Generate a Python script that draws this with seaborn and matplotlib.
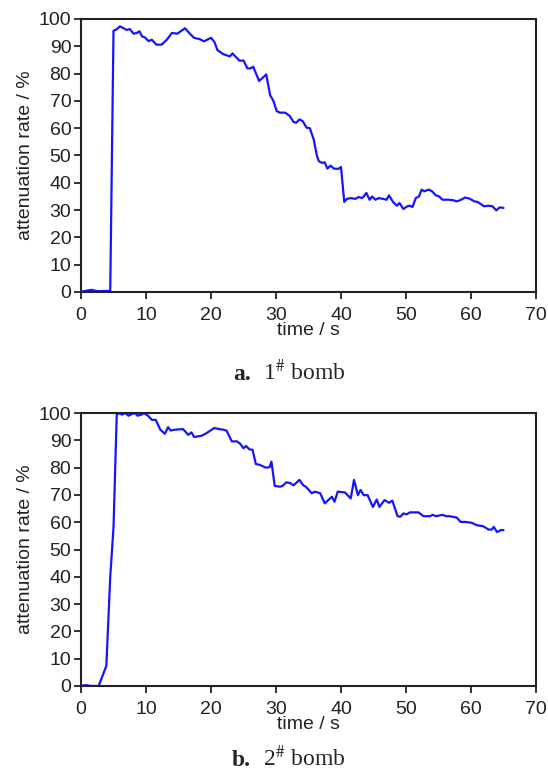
import matplotlib
matplotlib.use("Agg")
import matplotlib.pyplot as plt
import seaborn as sns
import pandas as pd

# ---- data: panel a (1# bomb) ----
time_a = [0, 0.9, 1.6, 2.5, 4.5, 5.0, 5.4, 6.0, 6.5, 7.0, 7.5, 8.1, 8.6, 9.0, 9.4, 9.8,
          10.4, 10.9, 11.6, 12.4, 13.2, 14.0, 14.8, 16.0, 16.8, 17.4, 18.3, 18.9, 20.0,
          20.5, 21.0, 21.9, 22.9, 23.3, 23.9, 24.4, 25.0, 25.6, 26.1, 26.5, 27.4, 28.1,
          28.5, 29.1, 29.6, 30.1, 30.6, 31.4, 32.1, 32.7, 33.1, 33.6, 34.1, 34.7, 35.2,
          35.8, 36.3, 36.6, 37.1, 37.5, 37.9, 38.4, 38.9, 39.6, 40.0, 40.5, 40.9, 41.5,
          42.2, 42.7, 43.2, 43.5, 43.9, 44.4, 44.8, 45.3, 45.8, 46.5, 47.0, 47.4, 48.0,
          48.6, 49.0, 49.6, 50.2, 50.6, 51.0, 51.5, 52.0, 52.4, 52.8, 53.5, 54.0, 54.6,
          55.1, 55.6, 56.5, 57.3, 57.8, 58.3, 59.1, 59.8, 60.5, 61.0, 62.0, 62.7, 63.3,
          63.9, 64.4, 65.0]
rate_a = [0.1, 0.5, 0.8, 0.3, 0.4, 95.7, 96.1, 97.3, 96.7, 96.0, 96.3, 94.6, 94.9, 95.5,
          93.6, 93.3, 91.9, 92.4, 90.6, 90.6, 92.4, 94.9, 94.6, 96.6, 94.5, 93.1, 92.6,
          91.8, 93.1, 91.7, 88.6, 87.1, 86.3, 87.4, 85.9, 84.7, 84.8, 81.9, 81.9, 82.5,
          77.3, 78.8, 79.7, 72.1, 70.0, 66.3, 65.7, 65.7, 64.5, 62.3, 62.0, 63.2, 62.6,
          60.2, 60.0, 55.9, 49.8, 47.9, 47.3, 47.5, 45.2, 46.3, 45.2, 45.1, 45.8, 33.0,
          34.1, 34.4, 34.1, 34.8, 34.4, 35.0, 36.3, 33.8, 35.0, 33.8, 34.4, 34.1, 33.8,
          35.4, 33.0, 31.6, 32.6, 30.4, 31.4, 31.6, 31.1, 34.4, 35.0, 37.5, 36.9, 37.5,
          36.9, 35.4, 35.0, 33.8, 33.8, 33.6, 33.2, 33.6, 34.6, 34.2, 33.2, 33.0, 31.4,
          31.6, 31.4, 29.9, 31.0, 30.8]

# ---- data: panel b (2# bomb) ----
time_b = [0, 0.9, 1.5, 2.7, 3.2, 3.9, 4.5, 5.0, 5.5, 5.9, 6.3, 6.8, 7.3, 7.8, 8.3, 8.7,
          9.3, 9.7, 10.4, 10.9, 11.5, 12.2, 12.9, 13.4, 13.8, 14.5, 15.7, 16.5, 17.0,
          17.4, 18.6, 19.3, 20.5, 21.3, 21.9, 22.4, 23.2, 24.0, 24.5, 25.0, 25.4, 25.9,
          26.4, 26.9, 27.5, 28.4, 29.0, 29.3, 29.8, 30.6, 31.0, 31.6, 32.2, 32.7, 33.6,
          34.2, 34.6, 35.5, 36.0, 36.8, 37.5, 38.6, 39.0, 39.5, 40.6, 41.5, 42.0, 42.6,
          43.0, 43.5, 44.1, 44.9, 45.5, 45.9, 46.7, 47.4, 47.9, 48.7, 49.1, 49.6, 50.1,
          50.6, 51.9, 52.7, 53.7, 54.1, 54.6, 55.6, 56.2, 56.7, 57.8, 58.4, 59.1, 60.1,
          60.9, 61.9, 62.7, 63.2, 63.5, 64.0, 64.6, 65.0]
rate_b = [0.2, 0.3, 0.0, 0.0, 3.0, 7.4, 40.0, 58.0, 99.4, 100.0, 99.4, 100.0, 99.0,
          99.6, 100.0, 99.0, 99.4, 100.0, 98.8, 97.5, 97.5, 93.9, 92.4, 94.8, 93.6,
          93.9, 94.1, 92.0, 92.9, 91.2, 91.7, 92.6, 94.5, 94.1, 93.9, 93.5, 89.6, 89.6,
          88.7, 87.1, 87.9, 86.7, 86.5, 81.3, 81.0, 80.0, 80.1, 82.2, 73.3, 73.0, 73.3,
          74.6, 74.3, 73.5, 75.5, 73.5, 73.0, 70.6, 71.2, 70.6, 66.9, 69.3, 67.5, 71.2,
          70.9, 68.7, 75.5, 69.9, 71.8, 69.9, 69.9, 65.6, 68.3, 65.6, 68.1, 67.1, 67.9,
          62.2, 62.0, 63.2, 62.9, 63.6, 63.6, 62.2, 62.2, 62.7, 62.2, 62.7, 62.2, 62.2,
          61.7, 60.1, 60.1, 59.8, 58.9, 58.5, 57.3, 57.3, 58.3, 56.4, 57.1, 57.1]

x_ticks = [0, 10, 20, 30, 40, 50, 60, 70]
y_ticks = [0, 10, 20, 30, 40, 50, 60, 70, 80, 90, 100]
x_label = "time / s"
y_label = "attenuation rate / %"
captions = [("a", "1"), ("b", "2")]

sns.set_style("ticks")
plt.rcParams["font.family"] = ["Liberation Sans", "DejaVu Sans"]
plt.rcParams["mathtext.fontset"] = "stix"

W, H = 548, 773
fig = plt.figure(figsize=(W / 100, H / 100), dpi=100)

def panel(top_px, bottom_px, t, r):
    ax = fig.add_axes([81 / W, 1 - bottom_px / H, (536 - 81) / W, (bottom_px - top_px) / H])
    df = pd.DataFrame({"t": t, "r": r})
    sns.lineplot(data=df, x="t", y="r", ax=ax, color="#1414ff", linewidth=1.6,
                 estimator=None, sort=False)
    ax.set_xlim(0, 70)
    ax.set_ylim(0, 100)
    ax.set_xticks(x_ticks)
    ax.set_yticks(y_ticks)
    ax.tick_params(axis="both", direction="out", length=5, width=1.3,
                   labelsize=14, color="#222222", labelcolor="#222222")
    ax.tick_params(axis="x", pad=5.5)
    ax.tick_params(axis="y", pad=2)
    for s in ax.spines.values():
        s.set_visible(True)
        s.set_linewidth(1.5)
        s.set_color("#222222")
    ax.set_xlabel(x_label, fontsize=14, labelpad=-1, color="#222222")
    ax.set_ylabel(y_label, fontsize=14, labelpad=3, color="#222222")
    return ax

panel(19, 292, time_a, rate_a)
panel(413, 686, time_b, rate_b)

cap_font = ["Liberation Serif", "DejaVu Serif"]
def caption(y_px, letter, num):
    y = 1 - y_px / H
    fig.text(251 / W, y, f"{letter}.", fontsize=17, fontweight="bold", family=cap_font,
             ha="right", va="baseline")
    fig.text(263 / W, y, f"{num}$^{{\\#}}$ bomb", fontsize=17, family=cap_font,
             ha="left", va="baseline")

caption(380, *captions[0])
caption(766, *captions[1])

fig.savefig("out.png", dpi=100, facecolor="white")
